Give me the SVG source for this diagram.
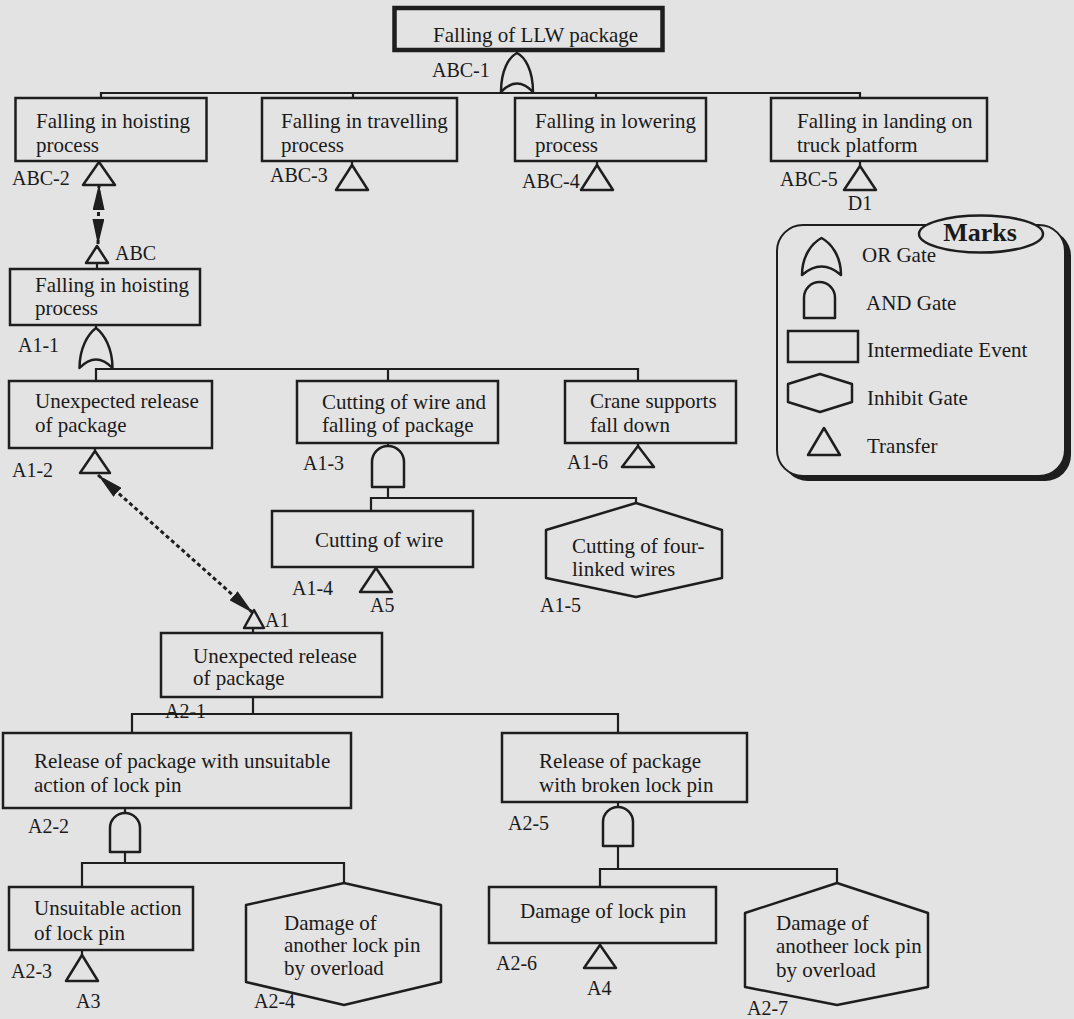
<svg xmlns="http://www.w3.org/2000/svg" width="1074" height="1019" viewBox="0 0 1074 1019">
<style>
.bg{fill:#e3e3e3}
.box{fill:none;stroke:#1e1e1e;stroke-width:2.5}
.thick{fill:none;stroke:#1e1e1e;stroke-width:4.5}
.ln{fill:none;stroke:#1e1e1e;stroke-width:2.2}
.gate{fill:none;stroke:#1e1e1e;stroke-width:2.5;stroke-linejoin:round}
.dash{fill:none;stroke:#1e1e1e;stroke-width:3;stroke-dasharray:4 3}
text{font-family:"Liberation Serif","Times New Roman",serif;fill:#1a1a1a}
.t{font-size:21px}
.lbl{font-size:20px}
.leg{font-size:21px}
.marks{font-size:26px;font-weight:bold}
</style>
<defs>
<marker id="ah" viewBox="0 0 26 12" refX="26" refY="6" markerWidth="26" markerHeight="12" markerUnits="userSpaceOnUse" orient="auto-start-reverse">
<path d="M0,0 L26,6 L0,12 Z" fill="#1e1e1e"/>
</marker>
</defs>
<rect class="bg" x="0" y="0" width="1074" height="1019"/>

<g id="connectors">
<line class="ln" x1="517" y1="50" x2="517" y2="54"/>
<polyline class="ln" points="101,98 101,93 860,93 860,98"/>
<line class="ln" x1="353" y1="93" x2="353" y2="98"/>
<line class="ln" x1="596" y1="93" x2="596" y2="98"/>
<line class="ln" x1="352" y1="161" x2="352" y2="165"/>
<line class="ln" x1="597" y1="161" x2="597" y2="165"/>
<line class="ln" x1="860" y1="161" x2="860" y2="166"/>
<line class="dash" x1="99" y1="184" x2="98" y2="245" marker-start="url(#ah)" marker-end="url(#ah)"/>
<line class="ln" x1="97" y1="263" x2="97" y2="269"/>
<line class="ln" x1="96" y1="325" x2="96" y2="329"/>
<polyline class="ln" points="96,381 96,369 638,369 638,381"/>
<line class="ln" x1="388" y1="369" x2="388" y2="381"/>
<line class="ln" x1="95" y1="448" x2="95" y2="451"/>
<line class="ln" x1="388" y1="443" x2="388" y2="446"/>
<line class="ln" x1="388" y1="487" x2="388" y2="498"/>
<polyline class="ln" points="371,511 371,498 636,498 636,503"/>
<line class="ln" x1="638" y1="443" x2="638" y2="446"/>
<line class="dash" x1="98" y1="475" x2="253" y2="613" marker-start="url(#ah)" marker-end="url(#ah)"/>
<line class="ln" x1="253" y1="628" x2="253" y2="633"/>
<line class="ln" x1="253" y1="697" x2="253" y2="714"/>
<polyline class="ln" points="132,733 132,714 618,714 618,733"/>
<line class="ln" x1="125" y1="808" x2="125" y2="813"/>
<line class="ln" x1="125" y1="852" x2="125" y2="863"/>
<polyline class="ln" points="82,887 82,863 344,863 344,883"/>
<line class="ln" x1="82" y1="950" x2="82" y2="955"/>
<line class="ln" x1="618" y1="802" x2="618" y2="807"/>
<line class="ln" x1="618" y1="846" x2="618" y2="869"/>
<polyline class="ln" points="600,887 600,869 837,869 837,883"/>
<line class="ln" x1="600" y1="943" x2="600" y2="945"/>
</g>

<g id="top">
<rect class="thick" x="394.5" y="8" width="268" height="42"/>
<text class="t" x="433" y="42">Falling of LLW package</text>
</g>
<g id="ABC-1">
<path class="gate" d="M501,92 C501,70 509,57 517,53 C525,57 533,70 533,92 Q517,75 501,92 Z"/>
<text class="lbl" x="432" y="77">ABC-1</text>
</g>

<g id="ABC-2">
<rect class="box" x="15.5" y="98" width="191" height="63"/>
<text class="t" x="36" y="128">Falling in hoisting</text>
<text class="t" x="36" y="152">process</text>
<path class="gate" d="M99,162 L115,185 L83,185 Z"/>
<text class="lbl" x="12" y="185">ABC-2</text>
</g>
<g id="ABC-3">
<rect class="box" x="262" y="98" width="195" height="63"/>
<text class="t" x="281" y="128">Falling in travelling</text>
<text class="t" x="281" y="152">process</text>
<path class="gate" d="M352,165 L368,190 L336,190 Z"/>
<text class="lbl" x="270" y="182">ABC-3</text>
</g>
<g id="ABC-4">
<rect class="box" x="515" y="98" width="191" height="63"/>
<text class="t" x="535" y="128">Falling in lowering</text>
<text class="t" x="535" y="152">process</text>
<path class="gate" d="M597,165 L613,190 L581,190 Z"/>
<text class="lbl" x="522" y="188">ABC-4</text>
</g>
<g id="ABC-5">
<rect class="box" x="771" y="98" width="216" height="63"/>
<text class="t" x="797" y="128">Falling in landing on</text>
<text class="t" x="797" y="152">truck platform</text>
<path class="gate" d="M860,166 L876,190 L844,190 Z"/>
<text class="lbl" x="780" y="186">ABC-5</text>
<text class="lbl" x="860" y="210" text-anchor="middle">D1</text>
</g>

<g id="ABC">
<path class="gate" d="M97,246 L108,263 L86,263 Z"/>
<text class="lbl" x="115" y="260">ABC</text>
</g>
<g id="A1-1">
<rect class="box" x="10" y="269" width="190" height="56"/>
<text class="t" x="35" y="292">Falling in hoisting</text>
<text class="t" x="35" y="315">process</text>
<path class="gate" d="M79.5,368 C79.5,348 88,334 96,328 C104,334 112.5,348 112.5,368 Q96,351 79.5,368 Z"/>
<text class="lbl" x="18" y="352">A1-1</text>
</g>
<g id="A1-2">
<rect class="box" x="9" y="381" width="203" height="67"/>
<text class="t" x="35" y="408">Unexpected release</text>
<text class="t" x="35" y="432">of package</text>
<path class="gate" d="M95,451 L110,473 L80,473 Z"/>
<text class="lbl" x="12" y="477">A1-2</text>
</g>
<g id="A1-3">
<rect class="box" x="297" y="381" width="201" height="62"/>
<text class="t" x="322" y="409">Cutting of wire and</text>
<text class="t" x="322" y="432">falling of package</text>
<path class="gate" d="M372,487 V462 A16,16 0 0 1 404,462 V487 Z"/>
<text class="lbl" x="303" y="470">A1-3</text>
</g>
<g id="A1-4">
<rect class="box" x="272" y="511" width="201" height="56"/>
<text class="t" x="315" y="547">Cutting of wire</text>
<path class="gate" d="M376,568 L392,592 L360,592 Z"/>
<text class="lbl" x="292" y="595">A1-4</text>
<text class="lbl" x="370" y="612">A5</text>
</g>
<g id="A1-5">
<path class="gate" d="M636,503 L722,530 L722,578 L636,597 L546,578 L546,530 Z"/>
<text class="t" x="572" y="553">Cutting of four-</text>
<text class="t" x="572" y="576">linked wires</text>
<text class="lbl" x="540" y="612">A1-5</text>
</g>
<g id="A1-6">
<rect class="box" x="565" y="381" width="171" height="62"/>
<text class="t" x="590" y="408">Crane supports</text>
<text class="t" x="590" y="432">fall down</text>
<path class="gate" d="M638,446 L654,467 L622,467 Z"/>
<text class="lbl" x="567" y="469">A1-6</text>
</g>

<g id="A1">
<path class="gate" d="M254,610 L264,628 L244,628 Z"/>
<text class="lbl" x="265" y="627">A1</text>
</g>
<g id="A2-1">
<rect class="box" x="161" y="633" width="221" height="64"/>
<text class="t" x="193" y="663">Unexpected release</text>
<text class="t" x="193" y="685">of package</text>
<text class="lbl" x="165" y="718">A2-1</text>
</g>
<g id="A2-2">
<rect class="box" x="3" y="733" width="348" height="75"/>
<text class="t" x="34" y="768">Release of package with unsuitable</text>
<text class="t" x="34" y="792">action of lock pin</text>
<path class="gate" d="M110,852 V828 A15,15 0 0 1 140,828 V852 Z"/>
<text class="lbl" x="28" y="833">A2-2</text>
</g>
<g id="A2-3">
<rect class="box" x="9" y="887" width="184" height="63"/>
<text class="t" x="34" y="915">Unsuitable action</text>
<text class="t" x="34" y="940">of lock pin</text>
<path class="gate" d="M82,955 L98,981 L66,981 Z"/>
<text class="lbl" x="11" y="978">A2-3</text>
<text class="lbl" x="76" y="1008">A3</text>
</g>
<g id="A2-4">
<path class="gate" d="M344,883 L441,905 L441,982 L344,1005 L246,982 L246,905 Z"/>
<text class="t" x="284" y="930">Damage of</text>
<text class="t" x="284" y="952">another lock pin</text>
<text class="t" x="284" y="975">by overload</text>
<text class="lbl" x="254" y="1008">A2-4</text>
</g>
<g id="A2-5">
<rect class="box" x="502" y="733" width="245" height="69"/>
<text class="t" x="539" y="768">Release of package</text>
<text class="t" x="539" y="792">with broken lock pin</text>
<path class="gate" d="M603,846 V822 A15,15 0 0 1 633,822 V846 Z"/>
<text class="lbl" x="508" y="830">A2-5</text>
</g>
<g id="A2-6">
<rect class="box" x="489" y="887" width="227" height="56"/>
<text class="t" x="520" y="918">Damage of lock pin</text>
<path class="gate" d="M600,945 L616,968 L584,968 Z"/>
<text class="lbl" x="496" y="970">A2-6</text>
<text class="lbl" x="587" y="995">A4</text>
</g>
<g id="A2-7">
<path class="gate" d="M837,883 L928,913 L928,987 L837,1005 L745,987 L745,913 Z"/>
<text class="t" x="776" y="930">Damage of</text>
<text class="t" x="776" y="953">anotheer lock pin</text>
<text class="t" x="776" y="977">by overload</text>
<text class="lbl" x="747" y="1015">A2-7</text>
</g>

<g id="legend">
<rect x="782" y="230" width="289" height="251" rx="26" fill="#1e1e1e"/>
<rect x="777" y="225" width="288" height="251" rx="26" fill="#e3e3e3" stroke="#1e1e1e" stroke-width="2"/>
<ellipse cx="981" cy="234" rx="62" ry="18.5" fill="#e3e3e3" stroke="#1e1e1e" stroke-width="2.5"/>
<text class="marks" x="980" y="241" text-anchor="middle">Marks</text>
<path class="gate" d="M802,275 C802,256 812,243 821.5,238 C831,243 841,256 841,275 Q821.5,258 802,275 Z"/>
<text class="leg" x="862" y="262">OR Gate</text>
<path class="gate" d="M804,318 V297.5 A15.5,15.5 0 0 1 835,297.5 V318 Z"/>
<text class="leg" x="866" y="310">AND Gate</text>
<rect class="box" x="788" y="331" width="70" height="31"/>
<text class="leg" x="867" y="357">Intermediate Event</text>
<path class="gate" d="M820,374 L852,384 L852,402 L820,412 L788,402 L788,384 Z"/>
<text class="leg" x="867" y="405">Inhibit Gate</text>
<path class="gate" d="M824,428 L840,455 L808,455 Z"/>
<text class="leg" x="867" y="453">Transfer</text>
</g>
</svg>
